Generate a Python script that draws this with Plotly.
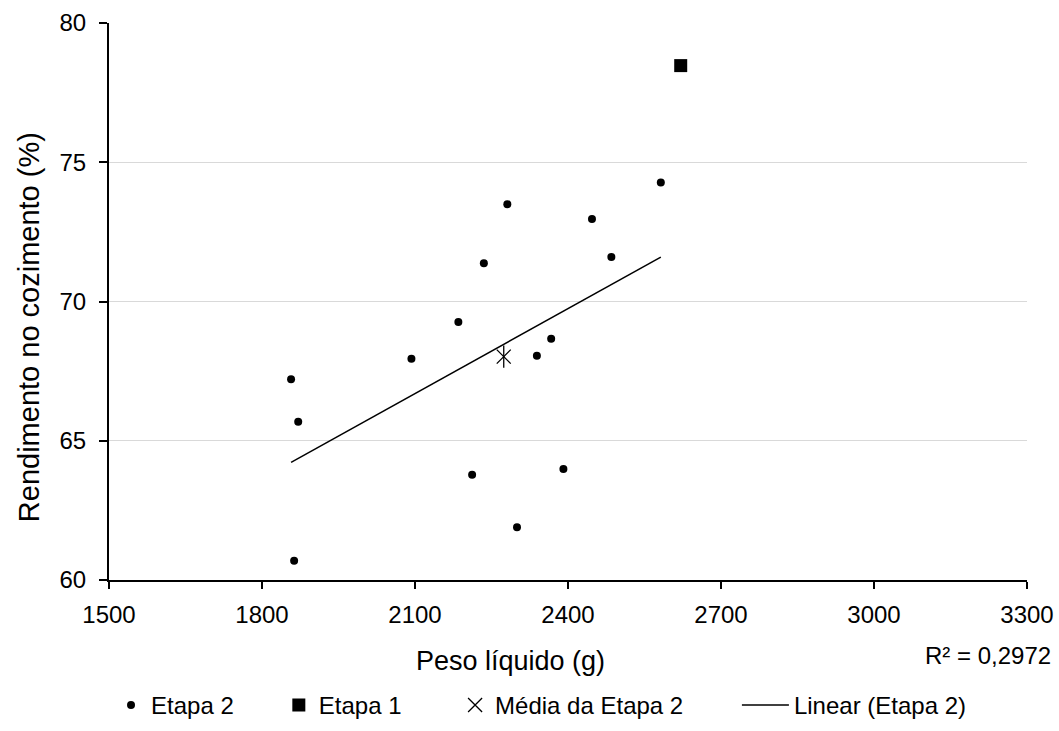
import numpy as np
import plotly.graph_objects as go

# Etapa 2 samples: net weight (g) vs cooking yield (%)
peso_etapa2 = [1857, 1871, 1863, 2093, 2185, 2235, 2281, 2212, 2300, 2339, 2367, 2391, 2447, 2485, 2582]
rend_etapa2 = [67.21, 65.68, 60.69, 67.94, 69.26, 71.37, 73.49, 63.78, 61.89, 68.05, 68.66, 63.99, 72.96, 71.60, 74.27]

# Etapa 1 sample
peso_etapa1 = [2621]
rend_etapa1 = [78.47]

# Mean of Etapa 2
peso_media = [2274]
rend_media = [68.02]

x_ticks = [1500, 1800, 2100, 2400, 2700, 3000, 3300]
y_ticks = [60, 65, 70, 75, 80]
r2_label = "R² = 0,2972"
x_title = "Peso líquido (g)"
y_title = "Rendimento no cozimento (%)"

# Linear trend of Etapa 2
slope, intercept = np.polyfit(peso_etapa2, rend_etapa2, 1)
trend_x = [min(peso_etapa2), max(peso_etapa2)]
trend_y = [slope * v + intercept for v in trend_x]

FONT = "Liberation Sans, Arial, sans-serif"
LEG_Y = -0.225


def legend_box(x, itemwidth=30):
    return dict(
        orientation="h", x=x, xanchor="left", y=LEG_Y, yanchor="middle",
        font=dict(family=FONT, size=24, color="black"),
        itemwidth=itemwidth, bgcolor="rgba(0,0,0,0)", borderwidth=0,
    )


fig = go.Figure()
fig.add_trace(go.Scatter(
    x=peso_etapa2, y=rend_etapa2, mode="markers", name="Etapa 2", legend="legend",
    marker=dict(symbol="circle", size=8, color="black"),
))
fig.add_trace(go.Scatter(
    x=peso_etapa1, y=rend_etapa1, mode="markers", name="Etapa 1", legend="legend2",
    marker=dict(symbol="square", size=13, color="black"),
))
fig.add_trace(go.Scatter(
    x=peso_media, y=rend_media, mode="markers", name="Média da Etapa 2", legend="legend3",
    marker=dict(symbol="x-thin-open", size=14, color="black",
                line=dict(color="black", width=1.3)),
))
# vertical stroke completing the mean marker
fig.add_trace(go.Scatter(
    x=peso_media, y=rend_media, mode="markers", showlegend=False, hoverinfo="skip",
    marker=dict(symbol="line-ns-open", size=16, color="black",
                line=dict(color="black", width=1.3)),
))
fig.add_trace(go.Scatter(
    x=trend_x, y=trend_y, mode="lines", name="Linear (Etapa 2)", legend="legend4",
    line=dict(color="black", width=1.5),
))

# R² of the trend, and the axis titles
fig.add_annotation(
    text=r2_label, xref="paper", yref="paper", x=1.028, y=-0.1347,
    xanchor="right", yanchor="middle", showarrow=False,
    font=dict(family=FONT, size=24, color="black"),
)
fig.add_annotation(
    text=x_title, xref="paper", yref="paper", x=0.4379, y=-0.1455,
    xanchor="center", yanchor="middle", showarrow=False,
    font=dict(family=FONT, size=27, color="black"),
)
fig.add_annotation(
    text=y_title, xref="paper", yref="paper", x=-0.0871, y=0.454,
    xanchor="center", yanchor="middle", showarrow=False, textangle=-90,
    font=dict(family=FONT, size=29, color="black"),
)

fig.update_layout(
    width=1059, height=731,
    margin=dict(l=109, r=32, t=23, b=151, autoexpand=False),
    paper_bgcolor="white", plot_bgcolor="white",
    font=dict(family=FONT, size=24, color="black"),
    showlegend=True,
    legend=legend_box(0.0022),
    legend2=legend_box(0.185),
    legend3=legend_box(0.377),
    legend4=legend_box(0.684, itemwidth=47),
    xaxis=dict(
        range=[1500, 3300], tickvals=x_ticks, ticktext=[str(v) for v in x_ticks],
        showgrid=False, zeroline=False, automargin=False,
        showline=True, linecolor="black", linewidth=2,
        ticks="outside", ticklen=7, tickwidth=1.5, tickcolor="black",
        tickfont=dict(family=FONT, size=24), ticklabelstandoff=5,
    ),
    yaxis=dict(
        range=[60, 80], tickvals=y_ticks, ticktext=[str(v) for v in y_ticks],
        showgrid=True, gridcolor="#d9d9d9", gridwidth=1.2, zeroline=False, automargin=False,
        showline=True, linecolor="black", linewidth=2,
        ticks="outside", ticklen=8, tickwidth=1.5, tickcolor="black",
        tickfont=dict(family=FONT, size=24), ticklabelstandoff=8,
    ),
)

fig.write_html("out.html")
